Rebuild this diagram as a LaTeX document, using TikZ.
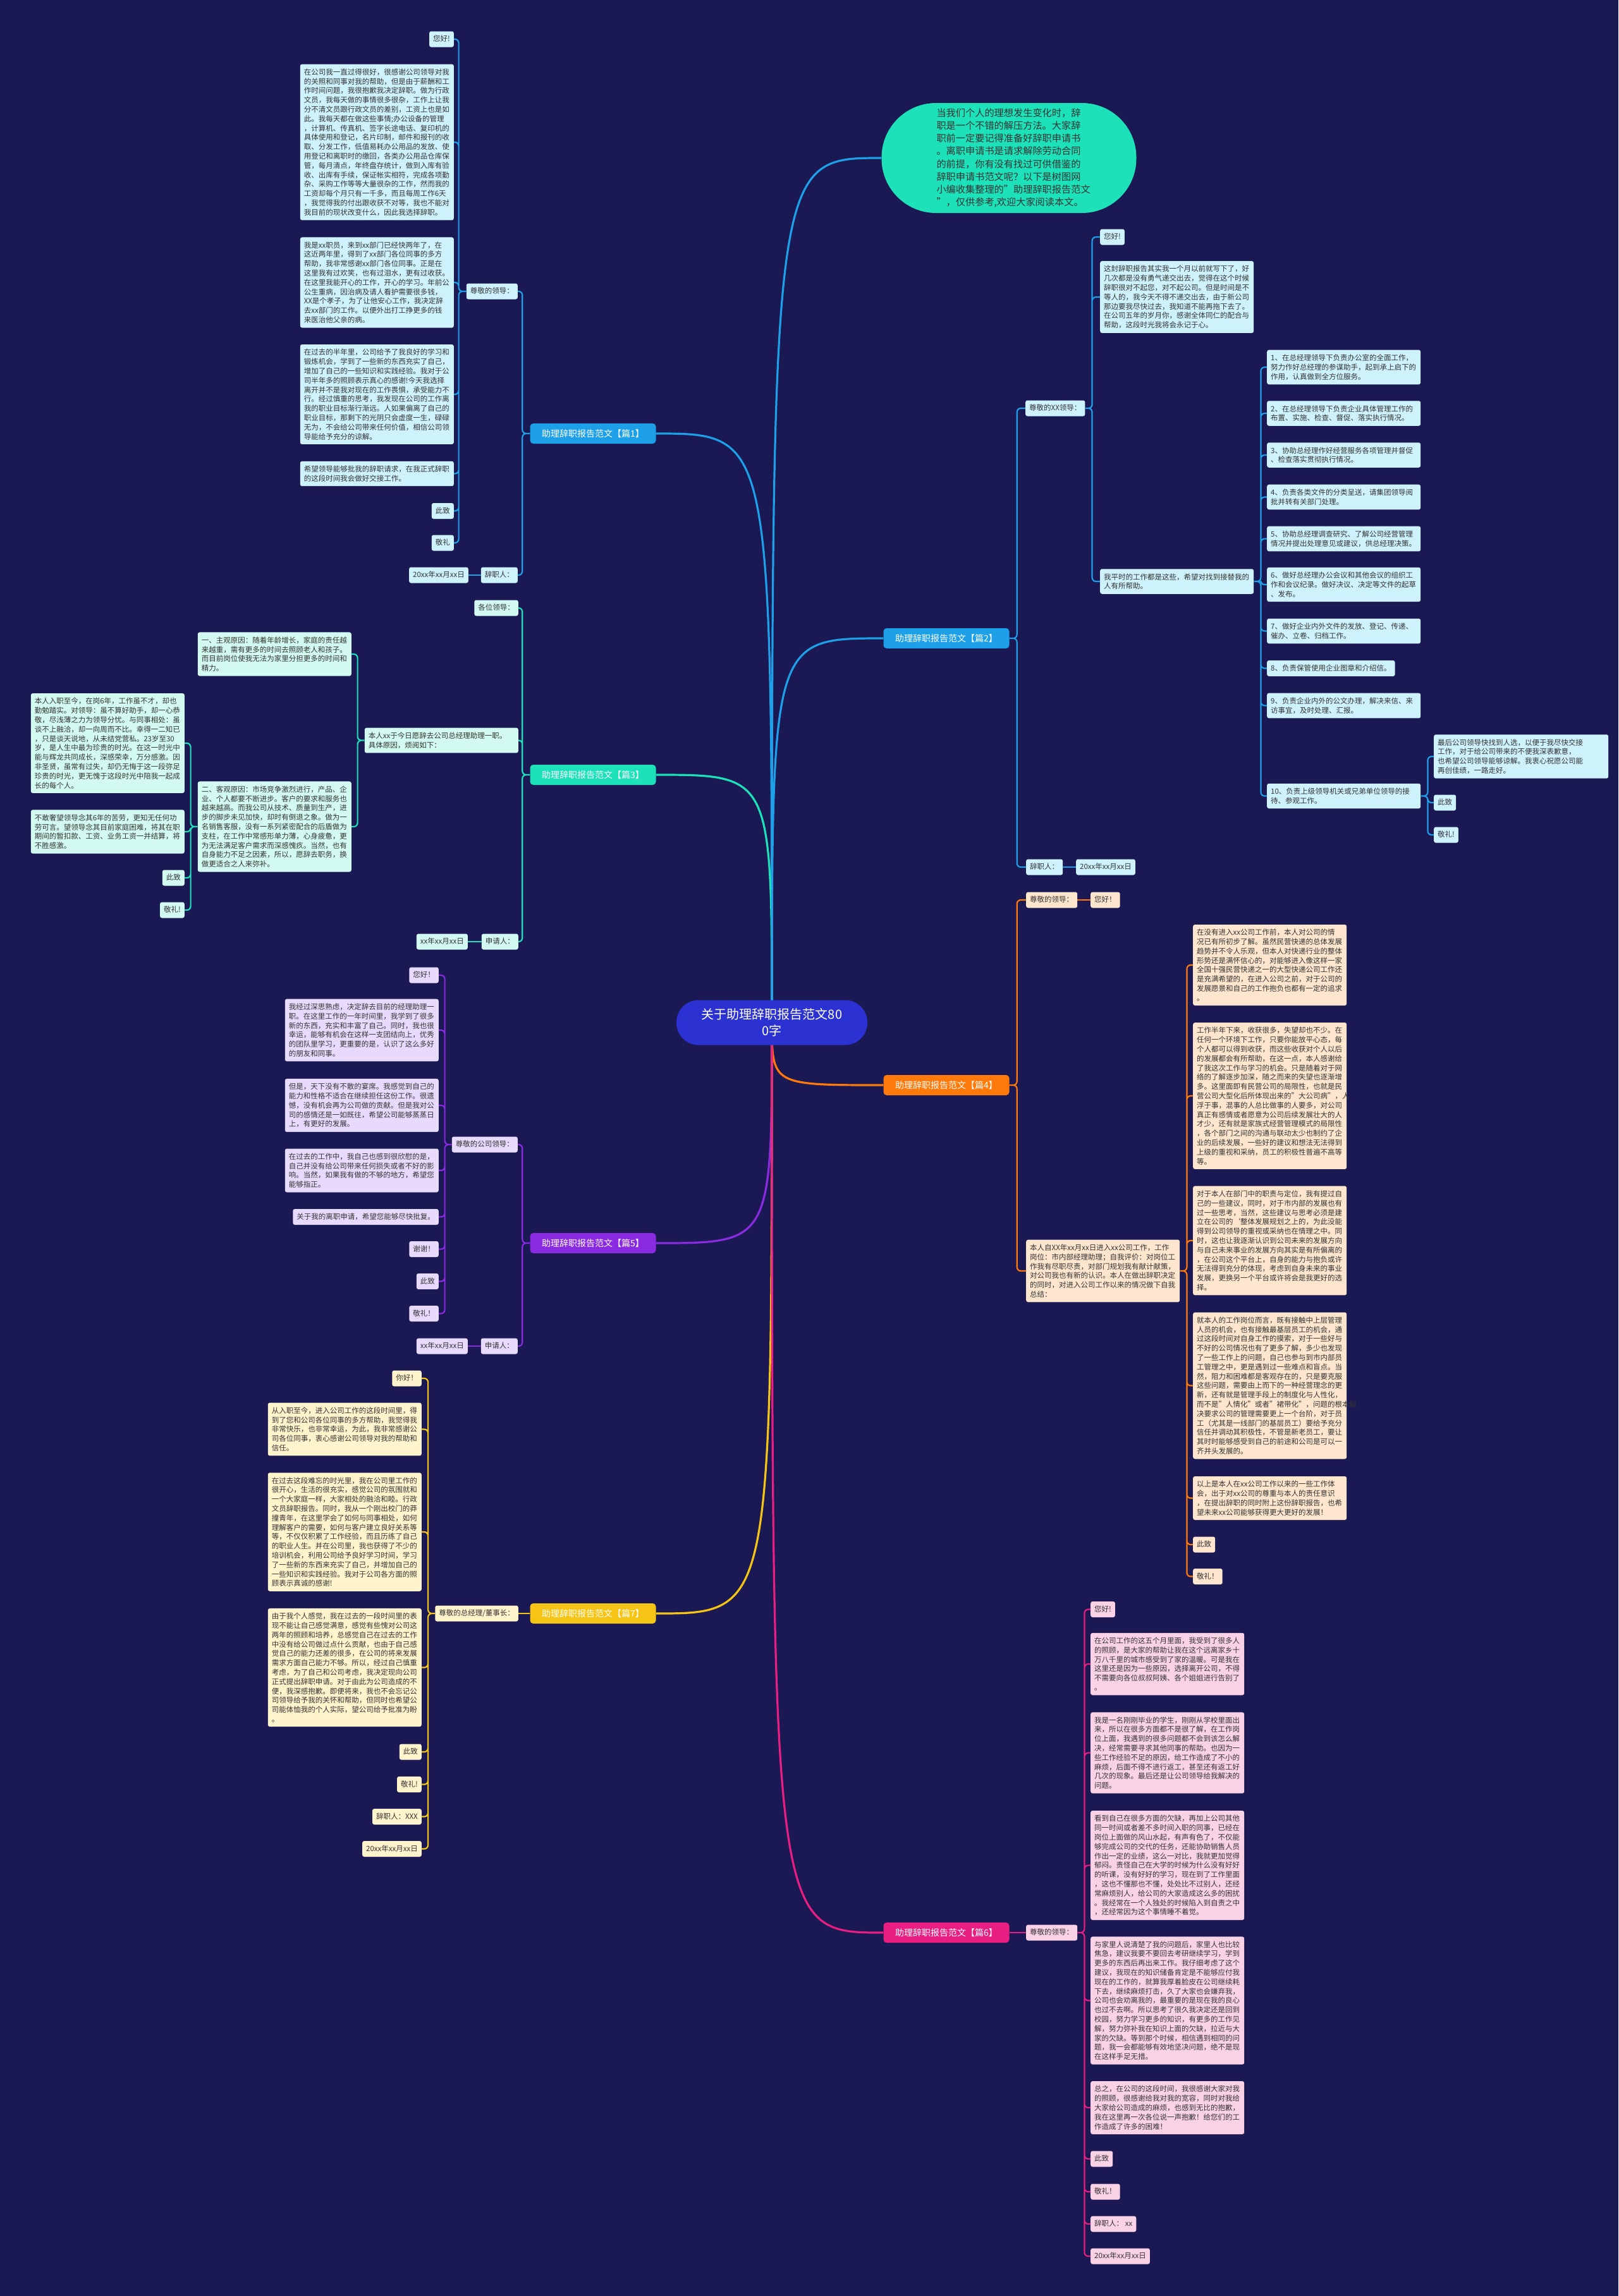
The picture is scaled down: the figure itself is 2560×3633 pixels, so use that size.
\documentclass[tikz,border=0pt]{standalone}
\usepackage{fontspec}
\setmainfont{Noto Sans CJK SC}
\definecolor{mmBg}     {RGB}{ 26, 25, 84}
\definecolor{mmText}   {RGB}{ 51, 51, 51}
\definecolor{mmRoot}   {RGB}{ 44, 50,210}
\definecolor{mmBlue}   {RGB}{ 30,160,232}
\definecolor{mmBlueL}  {RGB}{206,242,252}
\definecolor{mmTeal}   {RGB}{ 29,225,185}
\definecolor{mmTealL}  {RGB}{210,250,240}
\definecolor{mmOrange} {RGB}{255,122, 10}
\definecolor{mmOrangeL}{RGB}{253,230,205}
\definecolor{mmPurple} {RGB}{138, 43,226}
\definecolor{mmPurpleL}{RGB}{232,218,252}
\definecolor{mmYellow} {RGB}{245,196, 20}
\definecolor{mmYellowL}{RGB}{255,244,204}
\definecolor{mmPink}   {RGB}{233, 30,130}
\definecolor{mmPinkL}  {RGB}{250,210,230}
\newcommand{\bodyfs}{\fontsize{11.5}{14.8}\selectfont}

\begin{document}
\begin{tikzpicture}[
  x=1pt, y=-1pt,
  box/.style={rounded corners=3pt,inner xsep=6pt,text=mmText,font=\bodyfs},
  tag/.style={box,inner ysep=6pt,text height=10pt,text depth=3pt},
  para/.style={box,inner ysep=7pt,text width=231pt,align=left},
  blT/.style={tag,fill=mmBlueL},   blP/.style={para,fill=mmBlueL},
  tlT/.style={tag,fill=mmTealL},   tlP/.style={para,fill=mmTealL},
  orT/.style={tag,fill=mmOrangeL}, orP/.style={para,fill=mmOrangeL},
  puT/.style={tag,fill=mmPurpleL}, puP/.style={para,fill=mmPurpleL},
  yeT/.style={tag,fill=mmYellowL}, yeP/.style={para,fill=mmYellowL},
  piT/.style={tag,fill=mmPinkL},   piP/.style={para,fill=mmPinkL},
  brn/.style={rounded corners=5pt,minimum width=199pt,minimum height=32pt,
              inner sep=2pt,font=\fontsize{14}{17}\selectfont,text=white},
  root/.style={fill=mmRoot,text=white,rounded corners=35pt,minimum width=302pt,
              minimum height=71pt,align=center,font=\fontsize{20}{26}\selectfont},
  intro/.style={fill=mmTeal,text=mmText,rounded corners=86pt,minimum width=403pt,
              minimum height=174pt,text width=229pt,align=left,
              font=\fontsize{15.2}{20.2}\selectfont},
  ln/.style={line width=2.2pt,rounded corners=6pt},
  mn/.style={line width=3.2pt}
]
\fill[mmBg] (0,0) rectangle (2560,3633);
\useasboundingbox (0,0) rectangle (2560,3633);
\coordinate (rc) at (1221,1618);

% intro and branches
\node[intro] (I0) at (1596,250) {当我们个人的理想发生变化时，辞\\职是一个不错的解压方法。大家辞\\职前一定要记得准备好辞职申请书\\。离职申请书是请求解除劳动合同\\的前提，你有没有找过可供借鉴的\\辞职申请书范文呢？以下是树图网\\小编收集整理的"助理辞职报告范文\\"，仅供参考,欢迎大家阅读本文。};
\node[brn,fill=mmBlue]   (B1) at (938,686)  {助理辞职报告范文【篇1】};
\node[brn,fill=mmTeal]   (B3) at (938,1226) {助理辞职报告范文【篇3】};
\node[brn,fill=mmPurple] (B5) at (938,1967) {助理辞职报告范文【篇5】};
\node[brn,fill=mmYellow] (B7) at (938,2553) {助理辞职报告范文【篇7】};
\node[brn,fill=mmBlue]   (B2) at (1497,1010) {助理辞职报告范文【篇2】};
\node[brn,fill=mmOrange] (B4) at (1497,1717) {助理辞职报告范文【篇4】};
\node[brn,fill=mmPink]   (B6) at (1497,3058) {助理辞职报告范文【篇6】};

% branch 1
\node[blT,anchor=east] (b1g) at (819,461) {尊敬的领导：};
\node[blT,anchor=east] (b1s) at (819,910) {辞职人：};
\node[blT,anchor=east] (b1d) at (741,910) {20xx年xx月xx日};
\node[blT,anchor=east] (b1a) at (718,62)  {您好!};
\node[blP,anchor=east] (b1p1) at (718,225) {在公司我一直过得很好，很感谢公司领导对我\\的关照和同事对我的帮助，但是由于薪酬和工\\作时间问题，我很抱歉我决定辞职。做为行政\\文员，我每天做的事情很多很杂，工作上让我\\分不清文员跟行政文员的差别，工资上也是如\\此。我每天都在做这些事情;办公设备的管理\\，计算机、传真机、签字长途电话、复印机的\\具体使用和登记，名片印制，邮件和报刊的收\\取、分发工作，低值易耗办公用品的发放、使\\用登记和离职时的缴回，各类办公用品仓库保\\管，每月清点，年终盘存统计，做到入库有验\\收、出库有手续，保证帐实相符，完成各项勤\\杂、采购工作等等大量很杂的工作，然而我的\\工资却每个月只有一千多，而且每周工作6天\\，我觉得我的付出跟收获不对等，我也不能对\\我目前的现状改变什么，因此我选择辞职。};
\node[blP,anchor=east] (b1p2) at (718,447) {我是xx职员，来到xx部门已经快两年了，在\\这近两年里，得到了xx部门各位同事的多方\\帮助，我非常感谢xx部门各位同事。正是在\\这里我有过欢笑，也有过泪水，更有过收获。\\在这里我能开心的工作，开心的学习。年前公\\公生重病，因治病及请人看护需要很多钱，\\XX是个孝子，为了让他安心工作，我决定辞\\去xx部门的工作。以便外出打工挣更多的钱\\来医治他父亲的病。};
\node[blP,anchor=east] (b1p3) at (718,624) {在过去的半年里，公司给予了我良好的学习和\\锻炼机会，学到了一些新的东西充实了自己，\\增加了自己的一些知识和实践经验。我对于公\\司半年多的照顾表示真心的感谢!今天我选择\\离开并不是我对现在的工作畏惧，承受能力不\\行。经过慎重的思考，我发现在公司的工作离\\我的职业目标渐行渐远。人如果偏离了自己的\\职业目标，那剩下的光阴只会虚度一生，碌碌\\无为，不会给公司带来任何价值，相信公司领\\导能给予充分的谅解。};
\node[blP,anchor=east] (b1p4) at (718,749.5) {希望领导能够批我的辞职请求，在我正式辞职\\的这段时间我会做好交接工作。};
\node[blT,anchor=east] (b1c) at (718,808.5) {此致};
\node[blT,anchor=east] (b1r) at (718,859)   {敬礼};

% branch 3
\node[tlT,anchor=east] (b3g) at (820,962)  {各位领导：};
\node[tlP,anchor=east] (b3m) at (820,1171.5) {本人xx于今日愿辞去公司总经理助理一职。\\具体原因，烦阅如下：};
\node[tlT,anchor=east] (b3s) at (820,1490) {申请人：};
\node[tlT,anchor=east] (b3d) at (740,1490) {xx年xx月xx日};
\node[tlP,anchor=east] (b3p1) at (556,1035) {一、主观原因：随着年龄增长，家庭的责任越\\来越重，需有更多的时间去照顾老人和孩子。\\而目前岗位使我无法为家里分担更多的时间和\\精力。};
\node[tlP,anchor=east] (b3p2) at (556,1308) {二、客观原因：市场竞争激烈进行，产品、企\\业、个人都要不断进步。客户的要求和服务也\\越来越高。而我公司从技术、质量到生产，进\\步的脚步未见加快，却时有倒退之象。做为一\\名销售客服，没有一系列紧密配合的后盾做为\\支柱，在工作中常感形单力薄，心身疲惫，更\\为无法满足客户需求而深感愧疚。当然，也有\\自身能力不足之因素，所以，愿辞去职务，换\\做更适合之人来弥补。};
\node[tlP,anchor=east] (b3p3) at (292,1176) {本人入职至今，在岗6年，工作虽不才，却也\\勤勉踏实。对领导：虽不算好助手，却一心恭\\敬，尽浅薄之力为领导分忧。与同事相处：虽\\谈不上融洽，却一向周而不比。幸得一二知已\\，只是谈天说地，从未结党营私。23岁至30\\岁，是人生中最为珍贵的时光。在这一时光中\\能与辉龙共同成长，深感荣幸，万分感激。因\\非圣贤，虽常有过失，却仍无悔于这一段弥足\\珍贵的时光，更无愧于这段时光中陪我一起成\\长的每个人。};
\node[tlP,anchor=east] (b3p4) at (292,1316) {不敢奢望领导念其6年的苦劳，更知无任何功\\劳可言。望领导念其目前家庭困难，将其在职\\期间的暂扣款、工资、业务工资一并结算，将\\不胜感激。};
\node[tlT,anchor=east] (b3c) at (292,1389) {此致};
\node[tlT,anchor=east] (b3r) at (292,1440) {敬礼!};

% branch 5
\node[puT,anchor=east] (b5g) at (819,1811) {尊敬的公司领导：};
\node[puT,anchor=east] (b5s) at (819,2130) {申请人：};
\node[puT,anchor=east] (b5d) at (740,2130) {xx年xx月xx日};
\node[puT,anchor=east] (b5a) at (694,1543) {您好！};
\node[puP,anchor=east] (b5p1) at (694,1630) {我经过深思熟虑，决定辞去目前的经理助理一\\职。在这里工作的一年时间里，我学到了很多\\新的东西，充实和丰富了自己。同时，我也很\\幸运，能够有机会在这样一支团结向上，优秀\\的团队里学习，更重要的是，认识了这么多好\\的朋友和同事。};
\node[puP,anchor=east] (b5p2) at (694,1749) {但是，天下没有不散的宴席。我感觉到自己的\\能力和性格不适合在继续担任这份工作。很遗\\憾，没有机会再为公司做的贡献。但是我对公\\司的感情还是一如既往，希望公司能够蒸蒸日\\上，有更好的发展。};
\node[puP,anchor=east] (b5p3) at (694,1852) {在过去的工作中，我自己也感到很欣慰的是，\\自己并没有给公司带来任何损失或者不好的影\\响。当然，如果我有做的不够的地方，希望您\\能够指正。};
\node[puT,anchor=east] (b5p4) at (694,1925.5) {关于我的离职申请，希望您能够尽快批复。};
\node[puT,anchor=east] (b5t) at (694,1976.5) {谢谢！};
\node[puT,anchor=east] (b5c) at (694,2027.5) {此致};
\node[puT,anchor=east] (b5r) at (694,2078.5) {敬礼！};

% branch 7
\node[yeT,anchor=east] (b7g) at (820,2553) {尊敬的总经理/董事长：};
\node[yeT,anchor=east] (b7a) at (667,2181) {你好！};
\node[yeP,anchor=east] (b7p1) at (667,2261.5) {从入职至今，进入公司工作的这段时间里，得\\到了您和公司各位同事的多方帮助，我觉得我\\非常快乐，也非常幸运，为此，我非常感谢公\\司各位同事，衷心感谢公司领导对我的帮助和\\信任。};
\node[yeP,anchor=east] (b7p2) at (667,2424) {在过去这段难忘的时光里，我在公司里工作的\\很开心，生活的很充实，感觉公司的氛围就和\\一个大家庭一样，大家相处的融洽和睦。行政\\文员辞职报告。同时，我从一个刚出校门的莽\\撞青年，在这里学会了如何与同事相处，如何\\理解客户的需要，如何与客户建立良好关系等\\等，不仅仅积累了工作经验，而且历练了自己\\的职业人生。并在公司里，我也获得了不少的\\培训机会，利用公司给予良好学习时间，学习\\了一些新的东西来充实了自己，并增加自己的\\一些知识和实践经验。我对于公司各方面的照\\顾表示真诚的感谢!};
\node[yeP,anchor=east] (b7p3) at (667,2638.5) {由于我个人感觉，我在过去的一段时间里的表\\现不能让自己感觉满意，感觉有些愧对公司这\\两年的照顾和培养，总感觉自己在过去的工作\\中没有给公司做过点什么贡献，也由于自己感\\觉自己的能力还差的很多，在公司的将来发展\\需求方面自己能力不够。所以，经过自己慎重\\考虑，为了自己和公司考虑，我决定现向公司\\正式提出辞职申请。对于由此为公司造成的不\\便，我深感抱歉。即便将来，我也不会忘记公\\司领导给予我的关怀和帮助，但同时也希望公\\司能体恤我的个人实际，望公司给予批准为盼\\。};
\node[yeT,anchor=east] (b7c) at (667,2772)   {此致};
\node[yeT,anchor=east] (b7r) at (667,2823.5) {敬礼!};
\node[yeT,anchor=east] (b7s) at (667,2874.5) {辞职人：XXX};
\node[yeT,anchor=east] (b7d) at (667,2925.5) {20xx年xx月xx日};

% branch 2
\node[blT,anchor=west] (b2g) at (1622,646)  {尊敬的XX领导：};
\node[blT,anchor=west] (b2s) at (1623,1372) {辞职人：};
\node[blT,anchor=west] (b2d) at (1702,1372) {20xx年xx月xx日};
\node[blT,anchor=west] (b2a) at (1740,375)  {您好!};
\node[blP,anchor=west] (b2p1) at (1740,470) {这封辞职报告其实我一个月以前就写下了，好\\几次都是没有勇气递交出去，觉得在这个时候\\辞职很对不起您，对不起公司。但是时间是不\\等人的，我今天不得不递交出去，由于新公司\\那边要我尽快过去，我知道不能再拖下去了。\\在公司五年的岁月你，感谢全体同仁的配合与\\帮助，这段时光我将会永记于心。};
\node[blP,anchor=west] (b2p2) at (1740,920) {我平时的工作都是这些，希望对找到接替我的\\人有所帮助。};
\node[blP,anchor=west] (b2n1) at (2004,581)    {1、在总经理领导下负责办公室的全面工作，\\努力作好总经理的参谋助手，起到承上启下的\\作用，认真做到全方位服务。};
\node[blP,anchor=west] (b2n2) at (2004,654)    {2、在总经理领导下负责企业具体管理工作的\\布置、实施、检查、督促、落实执行情况。};
\node[blP,anchor=west] (b2n3) at (2004,720)    {3、协助总经理作好经营服务各项管理并督促\\、检查落实贯彻执行情况。};
\node[blP,anchor=west] (b2n4) at (2004,786.5)  {4、负责各类文件的分类呈送，请集团领导阅\\批并转有关部门处理。};
\node[blP,anchor=west] (b2n5) at (2004,852.5)  {5、协助总经理调查研究、了解公司经营管理\\情况并提出处理意见或建议，供总经理决策。};
\node[blP,anchor=west] (b2n6) at (2004,925)    {6、做好总经理办公会议和其他会议的组织工\\作和会议纪录。做好决议、决定等文件的起草\\、发布。};
\node[blP,anchor=west] (b2n7) at (2004,998.5)  {7、做好企业内外文件的发放、登记、传递、\\催办、立卷、归档工作。};
\node[blT,anchor=west] (b2n8) at (2004,1057.5) {8、负责保管使用企业图章和介绍信。};
\node[blP,anchor=west] (b2n9) at (2004,1116.5) {9、负责企业内外的公文办理，解决来信、来\\访事宜，及时处理、汇报。};
\node[blP,anchor=west] (b2n10) at (2004,1259.5) {10、负责上级领导机关或兄弟单位领导的接\\待、参观工作。};
\node[blP,anchor=west,text width=264pt] (b2p3) at (2268,1197) {最后公司领导快找到人选，以便于我尽快交接\\工作，对于给公司带来的不便我深表歉意，\\也希望公司领导能够谅解。我衷心祝愿公司能\\再创佳绩，一路走好。};
\node[blT,anchor=west] (b2c) at (2268,1270) {此致};
\node[blT,anchor=west] (b2r) at (2268,1321) {敬礼!};

% branch 4
\node[orT,anchor=west] (b4g) at (1623,1424) {尊敬的领导：};
\node[orT,anchor=west] (b4h) at (1725,1424) {您好！};
\node[orP,anchor=west] (b4m) at (1623,2011) {本人自XX年xx月xx日进入xx公司工作，工作\\岗位：市内部经理助理；自我评价：对岗位工\\作我有尽职尽责，对部门规划我有献计献策，\\对公司我也有新的认识。本人在做出辞职决定\\的同时，对进入公司工作以来的情况做下自我\\总结：};
\node[orP,anchor=west] (b4p1) at (1887,1527) {在没有进入xx公司工作前，本人对公司的情\\况已有所初步了解。虽然民营快递的总体发展\\趋势并不令人乐观，但本人对快递行业的整体\\形势还是满怀信心的，对能够进入像这样一家\\全国十强民营快递之一的大型快递公司工作还\\是充满希望的，在进入公司之前，对于公司的\\发展愿景和自己的工作抱负也都有一定的追求\\。};
\node[orP,anchor=west] (b4p2) at (1887,1734) {工作半年下来，收获很多，失望却也不少。在\\任何一个环境下工作，只要你能放平心态，每\\个人都可以得到收获，而这些收获对个人以后\\的发展都会有所帮助，在这一点，本人感谢给\\了我这次工作与学习的机会。只是随着对于网\\络的了解逐步加深，随之而来的失望也逐渐增\\多。这里面即有民营公司的局限性，也就是民\\营公司大型化后所体现出来的"大公司病"，人\\浮于事，混事的人总比做事的人要多，对公司\\真正有感情或者愿意为公司后续发展壮大的人\\才少，还有就是家族式经营管理模式的局限性\\，各个部门之间的沟通与联动太少也制约了企\\业的后续发展，一些好的建议和想法无法得到\\上级的重视和采纳，员工的积极性普遍不高等\\等。};
\node[orP,anchor=west] (b4p3) at (1887,1963) {对于本人在部门中的职责与定位，我有提过自\\己的一些建议，同时，对于市内部的发展也有\\过一些思考，当然，这些建议与思考必须是建\\立在公司的`整体发展规划之上的，为此没能\\得到公司领导的重视或采纳也在情理之中。同\\时，这也让我逐渐认识到公司未来的发展方向\\与自己未来事业的发展方向其实是有所偏离的\\，在公司这个平台上，自身的能力与抱负或许\\无法得到充分的体现，考虑到自身未来的事业\\发展，更换另一个平台或许将会是我更好的选\\择。};
\node[orP,anchor=west] (b4p4) at (1887,2192.5) {就本人的工作岗位而言，既有接触中上层管理\\人员的机会，也有接触最基层员工的机会，通\\过这段时间对自身工作的摸索，对于一些好与\\不好的公司情况也有了更多了解，多少也发现\\了一些工作上的问题，自己也参与到市内部员\\工管理之中，更是遇到过一些难点和盲点。当\\然，阻力和困难都是客观存在的，只是要克服\\这些问题，需要由上而下的一种经营理念的更\\新，还有就是管理手段上的制度化与人性化，\\而不是"人情化"或者"裙带化"，问题的根本解\\决要求公司的管理需要更上一个台阶，对于员\\工（尤其是一线部门的基层员工）要给予充分\\信任并调动其积极性，不管是新老员工，要让\\其时时能够感受到自己的前途和公司是可以一\\齐并头发展的。};
\node[orP,anchor=west] (b4p5) at (1887,2370.5) {以上是本人在xx公司工作以来的一些工作体\\会，出于对xx公司的尊重与本人的责任意识\\，在提出辞职的同时附上这份辞职报告，也希\\望未来xx公司能够获得更大更好的发展！};
\node[orT,anchor=west] (b4c) at (1887,2444)   {此致};
\node[orT,anchor=west] (b4r) at (1887,2494.5) {敬礼！};

% branch 6
\node[piT,anchor=west] (b6g) at (1623,3058) {尊敬的领导：};
\node[piT,anchor=west] (b6a) at (1725,2546.5) {您好!};
\node[piP,anchor=west] (b6p1) at (1725,2633) {在公司工作的这五个月里面，我受到了很多人\\的照顾，是大家的帮助让我在这个远离家乡十\\万八千里的城市感受到了家的温暖。可是我在\\这里还是因为一些原因，选择离开公司，不得\\不需要向各位叔叔阿姨、各个姐姐进行告别了\\。};
\node[piP,anchor=west] (b6p2) at (1725,2773.5) {我是一名刚刚毕业的学生，刚刚从学校里面出\\来，所以在很多方面都不是很了解，在工作岗\\位上面，我遇到的很多问题都不会到该怎么解\\决，经常需要寻求其他同事的帮助。也因为一\\些工作经验不足的原因，给工作造成了不小的\\麻烦，后面不得不进行返工，甚至还有返工好\\几次的现象。最后还是让公司领导给我解决的\\问题。};
\node[piP,anchor=west] (b6p3) at (1725,2951.5) {看到自己在很多方面的欠缺，再加上公司其他\\同一时间或者差不多时间入职的同事，已经在\\岗位上面做的风山水起，有声有色了，不仅能\\够完成公司的交代的任务，还能协助销售人员\\作出一定的业绩，这么一对比，我就更加觉得\\郁闷。责怪自己在大学的时候为什么没有好好\\的听课，没有好好的学习，现在到了工作里面\\，这也不懂那也不懂，处处比不过别人，还经\\常麻烦别人，给公司的大家造成这么多的困扰\\。我经常在一个人独处的时候陷入到自责之中\\，还经常因为这个事情睡不着觉。};
\node[piP,anchor=west] (b6p4) at (1725,3165.5) {与家里人说清楚了我的问题后，家里人也比较\\焦急，建议我要不要回去考研继续学习，学到\\更多的东西后再出来工作。我仔细考虑了这个\\建议，我现在的知识储备肯定是不能够应付我\\现在的工作的，就算我厚着脸皮在公司继续耗\\下去，继续麻烦打击，久了大家也会嫌弃我，\\公司也会劝离我的，最重要的是现在我的良心\\也过不去啊。所以思考了很久我决定还是回到\\校园，努力学习更多的知识，有更多的工作见\\解，努力弥补我在知识上面的欠缺，拉近与大\\家的欠缺。等到那个时候，相信遇到相同的问\\题，我一会都能够有效地坚决问题，绝不是现\\在这样手足无措。};
\node[piP,anchor=west] (b6p5) at (1725,3335) {总之，在公司的这段时间，我很感谢大家对我\\的照顾，很感谢给我对我的宽容，同时对我给\\大家给公司造成的麻烦，也感到无比的抱歉，\\我在这里再一次各位说一声抱歉！给您们的工\\作造成了许多的困难！};
\node[piT,anchor=west] (b6c) at (1725,3416) {此致};
\node[piT,anchor=west] (b6r) at (1725,3468) {敬礼！};
\node[piT,anchor=west] (b6s) at (1725,3519) {辞职人： xx};
\node[piT,anchor=west] (b6d) at (1725,3570) {20xx年xx月xx日};

% connectors, left side
\draw[ln,mmBlue] (B1.west) -- ++(-12,0) |- (b1g.east) (B1.west) -- ++(-12,0) |- (b1s.east);
\draw[ln,mmBlue] (b1s.west) -- (b1d.east);
\draw[ln,mmBlue] (b1g.west) -- ++(-12,0) |- (b1a.east) (b1g.west) -- ++(-12,0) |- (b1p1.east)
  (b1g.west) -- ++(-12,0) |- (b1p2.east) (b1g.west) -- ++(-12,0) |- (b1p3.east)
  (b1g.west) -- ++(-12,0) |- (b1p4.east) (b1g.west) -- ++(-12,0) |- (b1c.east)
  (b1g.west) -- ++(-12,0) |- (b1r.east);
\draw[ln,mmTeal] (B3.west) -- ++(-12,0) |- (b3g.east) (B3.west) -- ++(-12,0) |- (b3m.east)
  (B3.west) -- ++(-12,0) |- (b3s.east);
\draw[ln,mmTeal] (b3s.west) -- (b3d.east);
\draw[ln,mmTeal] (b3m.west) -- ++(-11,0) |- (b3p1.east) (b3m.west) -- ++(-11,0) |- (b3p2.east);
\draw[ln,mmTeal] (b3p2.west) -- ++(-11,0) |- (b3p3.east) (b3p2.west) -- ++(-11,0) |- (b3p4.east)
  (b3p2.west) -- ++(-11,0) |- (b3c.east) (b3p2.west) -- ++(-11,0) |- (b3r.east);
\draw[ln,mmPurple] (B5.west) -- ++(-12,0) |- (b5g.east) (B5.west) -- ++(-12,0) |- (b5s.east);
\draw[ln,mmPurple] (b5s.west) -- (b5d.east);
\draw[ln,mmPurple] (b5g.west) -- ++(-11,0) |- (b5a.east) (b5g.west) -- ++(-11,0) |- (b5p1.east)
  (b5g.west) -- ++(-11,0) |- (b5p2.east) (b5g.west) -- ++(-11,0) |- (b5p3.east)
  (b5g.west) -- ++(-11,0) |- (b5p4.east) (b5g.west) -- ++(-11,0) |- (b5t.east)
  (b5g.west) -- ++(-11,0) |- (b5c.east) (b5g.west) -- ++(-11,0) |- (b5r.east);
\draw[ln,mmYellow] (B7.west) -- (b7g.east);
\draw[ln,mmYellow] (b7g.west) -- ++(-11,0) |- (b7a.east) (b7g.west) -- ++(-11,0) |- (b7p1.east)
  (b7g.west) -- ++(-11,0) |- (b7p2.east) (b7g.west) -- ++(-11,0) |- (b7p3.east)
  (b7g.west) -- ++(-11,0) |- (b7c.east) (b7g.west) -- ++(-11,0) |- (b7r.east)
  (b7g.west) -- ++(-11,0) |- (b7s.east) (b7g.west) -- ++(-11,0) |- (b7d.east);

% connectors, right side
\draw[ln,mmBlue] (B2.east) -- ++(12,0) |- (b2g.west) (B2.east) -- ++(12,0) |- (b2s.west);
\draw[ln,mmBlue] (b2s.east) -- (b2d.west);
\draw[ln,mmBlue] (b2g.east) -- ++(11,0) |- (b2a.west) (b2g.east) -- ++(11,0) |- (b2p1.west)
  (b2g.east) -- ++(11,0) |- (b2p2.west);
\draw[ln,mmBlue] (b2p2.east) -- ++(11,0) |- (b2n1.west) (b2p2.east) -- ++(11,0) |- (b2n2.west)
  (b2p2.east) -- ++(11,0) |- (b2n3.west) (b2p2.east) -- ++(11,0) |- (b2n4.west)
  (b2p2.east) -- ++(11,0) |- (b2n5.west) (b2p2.east) -- ++(11,0) |- (b2n6.west)
  (b2p2.east) -- ++(11,0) |- (b2n7.west) (b2p2.east) -- ++(11,0) |- (b2n8.west)
  (b2p2.east) -- ++(11,0) |- (b2n9.west) (b2p2.east) -- ++(11,0) |- (b2n10.west);
\draw[ln,mmBlue] (b2n10.east) -- ++(11,0) |- (b2p3.west) (b2n10.east) -- ++(11,0) |- (b2c.west)
  (b2n10.east) -- ++(11,0) |- (b2r.west);
\draw[ln,mmOrange] (B4.east) -- ++(12,0) |- (b4g.west) (B4.east) -- ++(12,0) |- (b4m.west);
\draw[ln,mmOrange] (b4g.east) -- (b4h.west);
\draw[ln,mmOrange] (b4m.east) -- ++(11,0) |- (b4p1.west) (b4m.east) -- ++(11,0) |- (b4p2.west)
  (b4m.east) -- ++(11,0) |- (b4p3.west) (b4m.east) -- ++(11,0) |- (b4p4.west)
  (b4m.east) -- ++(11,0) |- (b4p5.west) (b4m.east) -- ++(11,0) |- (b4c.west)
  (b4m.east) -- ++(11,0) |- (b4r.west);
\draw[ln,mmPink] (B6.east) -- (b6g.west);
\draw[ln,mmPink] (b6g.east) -- ++(11,0) |- (b6a.west) (b6g.east) -- ++(11,0) |- (b6p1.west)
  (b6g.east) -- ++(11,0) |- (b6p2.west) (b6g.east) -- ++(11,0) |- (b6p3.west)
  (b6g.east) -- ++(11,0) |- (b6p4.west) (b6g.east) -- ++(11,0) |- (b6p5.west)
  (b6g.east) -- ++(11,0) |- (b6c.west) (b6g.east) -- ++(11,0) |- (b6r.west)
  (b6g.east) -- ++(11,0) |- (b6s.west) (b6g.east) -- ++(11,0) |- (b6d.west);

% curves from the root
\draw[mn,mmBlue]   (rc) .. controls (rc |- I0.west) .. (I0.west);
\draw[mn,mmBlue]   (rc) .. controls (rc |- B1.east) .. (B1.east);
\draw[mn,mmTeal]   (rc) .. controls (rc |- B3.east) .. (B3.east);
\draw[mn,mmPurple] (rc) .. controls (rc |- B5.east) .. (B5.east);
\draw[mn,mmYellow] (rc) .. controls (rc |- B7.east) .. (B7.east);
\draw[mn,mmBlue]   (rc) .. controls (rc |- B2.west) .. (B2.west);
\draw[mn,mmOrange] (rc) .. controls (rc |- B4.west) .. (B4.west);
\draw[mn,mmPink]   (rc) .. controls (rc |- B6.west) .. (B6.west);

\node[root] (R0) at (rc) {关于助理辞职报告范文80\\0字};
\end{tikzpicture}
\end{document}
